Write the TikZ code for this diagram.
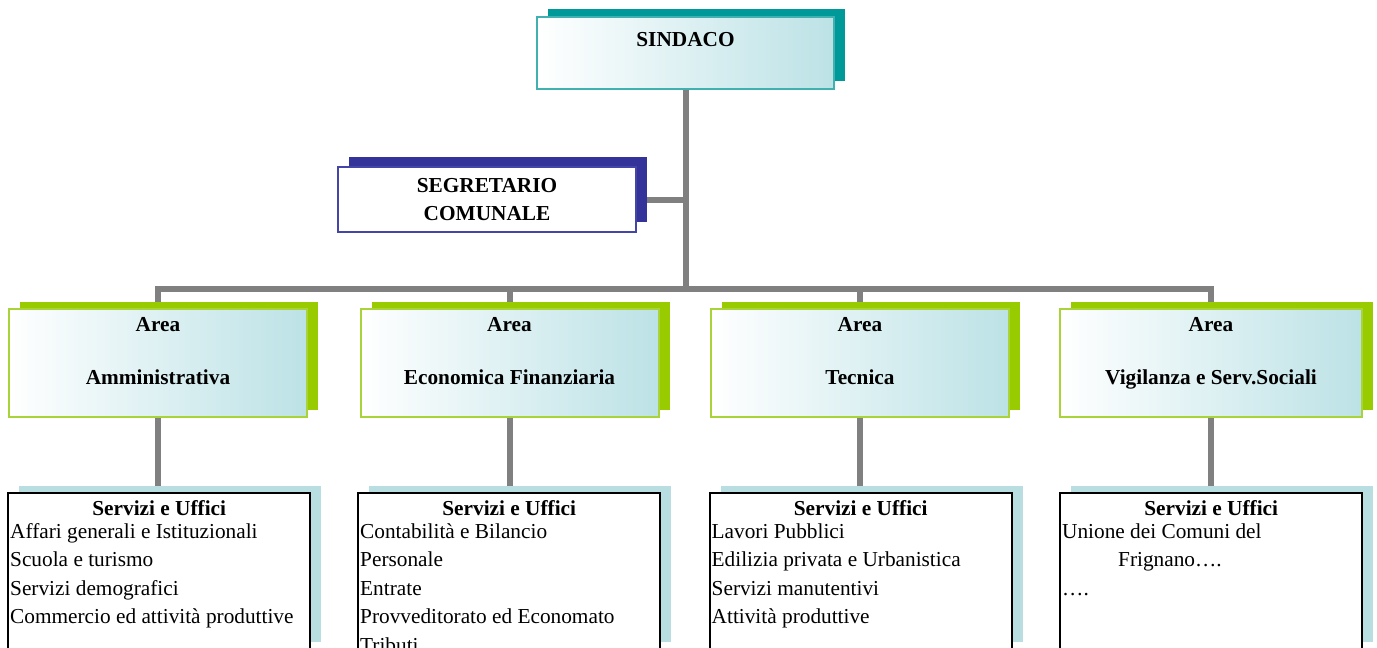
\documentclass[tikz,border=0pt]{standalone}
\usepackage{fontspec}
\setmainfont{Liberation Serif}
\usetikzlibrary{backgrounds}

\definecolor{shteal}{HTML}{009999}
\definecolor{edgeteal}{HTML}{40B0B0}
\definecolor{shnavy}{HTML}{333399}
\definecolor{edgenavy}{HTML}{4545A8}
\definecolor{shgreen}{HTML}{99CC00}
\definecolor{edgegreen}{HTML}{A8D43A}
\definecolor{paleblue}{HTML}{BCE2E6}
\definecolor{shblue}{HTML}{B8DEE2}
\definecolor{linegray}{HTML}{808080}

\newcommand\orgfont{\fontsize{21.3}{28.4}\selectfont}
\newcommand\orgbf{\fontsize{21.3}{28.4}\selectfont\bfseries}

\begin{document}
\begin{tikzpicture}[x=1pt,y=-1pt,
    conn/.style={draw=linegray,line width=6pt},
    box/.style={line width=2pt,inner sep=0pt,outer sep=0pt,align=center,font=\orgbf},
    topbox/.style={box,draw=edgeteal,left color=white,right color=paleblue,
      minimum width=297pt,minimum height=72pt},
    segbox/.style={box,draw=edgenavy,fill=white,minimum width=298pt,minimum height=65pt},
    areabox/.style={box,draw=edgegreen,left color=white,right color=paleblue,
      minimum width=298pt,minimum height=108pt},
    svbox/.style={draw=black,line width=2pt,fill=white,inner sep=0pt,outer sep=0pt,
      minimum width=302pt,minimum height=160pt},
    svtext/.style={anchor=base west,inner sep=0pt,text width=298pt,align=flush left,font=\orgfont}]
  \useasboundingbox (0,0) rectangle (1377,648);

  % vertici
  \node[topbox] (sindaco) at (685.5,53) {SINDACO\\[-1.4pt]\mbox{}};
  \node[segbox] (segr) at (487,199.5) {SEGRETARIO\\COMUNALE};
  \coordinate (bus) at (685.5,289);

  % aree
  \node[areabox] (a1) at (158,363) {Area\\[24.6pt]Amministrativa\\[-3.4pt]\mbox{}};
  \node[areabox] (a2) at (509.5,363) {Area\\[24.6pt]Economica Finanziaria\\[-3.4pt]\mbox{}};
  \node[areabox] (a3) at (860,363) {Area\\[24.6pt]Tecnica\\[-3.4pt]\mbox{}};
  \node[areabox,minimum width=302pt] (a4) at (1211,363) {Area\\[24.6pt]Vigilanza e Serv.Sociali\\[-3.4pt]\mbox{}};

  % servizi e uffici
  \node[svbox] (s1) at (159,573) {};
  \node[svbox] (s2) at (509,573) {};
  \node[svbox] (s3) at (860.5,573) {};
  \node[svbox] (s4) at (1211,573) {};
  \node[svtext] (t1) at ([shift={(2,22)}]s1.north west)
    {\makebox[\hsize]{\orgbf Servizi e Uffici}\\[-5pt]
     Affari generali e Istituzionali\\ Scuola e turismo\\ Servizi demografici\\
     Commercio ed attività produttive};
  \node[svtext] (t2) at ([shift={(2,22)}]s2.north west)
    {\makebox[\hsize]{\orgbf Servizi e Uffici}\\[-5pt]
     Contabilità e Bilancio\\ Personale\\ Entrate\\ Provveditorato ed Economato\\ Tributi};
  \node[svtext] (t3) at ([shift={(2,22)}]s3.north west)
    {\makebox[\hsize]{\orgbf Servizi e Uffici}\\[-5pt]
     Lavori Pubblici\\ Edilizia privata e Urbanistica\\ Servizi manutentivi\\
     Attività produttive};
  \node[svtext] (t4) at ([shift={(2,22)}]s4.north west)
    {\makebox[\hsize]{\orgbf Servizi e Uffici}\\[-5pt]
     Unione dei Comuni del\\ \hspace*{56pt}Frignano….\\ ….};

  \begin{scope}[on background layer]
    \draw[conn] (sindaco) -- (bus);
    \draw[conn] (segr) -- (segr -| bus);
    \foreach \i in {1,...,4} {
      \draw[conn] (bus) -| (a\i.north);
      \draw[conn] (a\i) -- (a\i |- s\i.north);
    }
    % ombre
    \fill[shteal] ([shift={(11,-8)}]sindaco.north west) rectangle ([shift={(11,-8)}]sindaco.south east);
    \fill[shnavy] ([shift={(11,-10)}]segr.north west) rectangle ([shift={(11,-10)}]segr.south east);
    \foreach \i in {1,...,4} {
      \fill[shgreen] ([shift={(11,-7)}]a\i.north west) rectangle ([shift={(11,-7)}]a\i.south east);
      \fill[shblue] ([shift={(11,-7)}]s\i.north west) rectangle ++(302,156);
    }
  \end{scope}
\end{tikzpicture}
\end{document}
